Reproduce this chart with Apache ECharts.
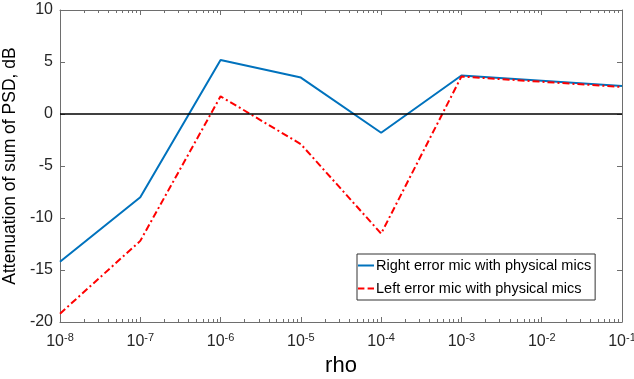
<!DOCTYPE html>
<html>
<head>
<meta charset="utf-8">
<script src="https://cdn.jsdelivr.net/npm/echarts@6/dist/echarts.min.js"></script>
<style>
  html, body { margin: 0; padding: 0; background: #fff; }
  #main { width: 634px; height: 379px; }
</style>
</head>
<body>
<div id="main"></div>
<script>
// rho values (log axis) and attenuation in dB
const rho = [1e-8, 1e-7, 1e-6, 1e-5, 1e-4, 1e-3, 1e-2, 1e-1];
const rightMic = [-14.2, -8.0, 5.2, 3.5, -1.8, 3.7, 3.2, 2.7];
const leftMic = [-19.2, -12.2, 1.7, -2.9, -11.5, 3.6, 3.1, 2.6];
const majorTicks = [1e-8, 1e-7, 1e-6, 1e-5, 1e-4, 1e-3, 1e-2, 1e-1];

// minor ticks at 2..9 x 10^n
const minorTicks = [];
for (let n = -8; n < -1; n++) {
  for (let k = 2; k <= 9; k++) minorTicks.push(k * Math.pow(10, n));
}

const boxColor = '#6e6e6e';
const font = 'Liberation Sans, Arial, sans-serif';

function xAxisDef (pos, minor, labels) {
  return {
    type: 'log',
    logBase: 10,
    min: 1e-8,
    max: 1e-1,
    position: pos,
    axisLine: { show: !minor, onZero: false, lineStyle: { color: boxColor, width: 1 } },
    axisTick: {
      show: true,
      inside: true,
      length: minor ? 3 : 5,
      customValues: minor ? minorTicks : majorTicks,
      lineStyle: { color: boxColor }
    },
    axisLabel: labels ? {
      show: true,
      customValues: majorTicks,
      margin: 10,
      formatter: function (v) {
        return '{b|10}{s|' + Math.round(Math.log10(v)) + '}';
      },
      rich: {
        b: { fontSize: 16, color: '#262626', fontFamily: font },
        s: { fontSize: 11, color: '#262626', fontFamily: font, padding: [0, 0, 9, 0] }
      }
    } : { show: false },
    splitLine: { show: false },
    name: labels ? 'rho' : '',
    nameLocation: 'middle',
    nameGap: 30,
    nameTextStyle: { fontSize: 22, color: '#000', fontFamily: font }
  };
}

function yAxisDef (pos, labels) {
  return {
    type: 'value',
    min: -20,
    max: 10,
    interval: 5,
    position: pos,
    axisLine: { show: true, onZero: false, lineStyle: { color: boxColor, width: 1 } },
    axisTick: { show: true, inside: true, length: 5, lineStyle: { color: boxColor } },
    axisLabel: { show: labels, fontSize: 16, color: '#262626', fontFamily: font, margin: 7 },
    splitLine: { show: false },
    name: labels ? 'Attenuation of sum of PSD, dB' : '',
    nameLocation: 'middle',
    nameGap: 25,
    nameTextStyle: { fontSize: 17.5, color: '#000', fontFamily: font }
  };
}

const option = {
  backgroundColor: '#fff',
  animation: false,
  grid: { left: 60, right: 12, top: 10, bottom: 57, outerBoundsMode: 'none', containLabel: false },
  legend: {
    left: 357,
    top: 254,
    orient: 'vertical',
    backgroundColor: '#fff',
    borderColor: '#333',
    borderWidth: 1,
    borderRadius: 0,
    padding: [4, 4, 4, 1],
    itemGap: 8,
    itemWidth: 16,
    itemHeight: 14,
    textStyle: { fontSize: 14.5, color: '#000', fontFamily: font, padding: [0, 0, 0, -3] },
    data: [
      { name: 'Right error mic with physical mics', icon: 'path://M0,0h16v2h-16z' },
      { name: 'Left error mic with physical mics', icon: 'path://M0,0h6v2h-6z M9,0h6v2h-6z' }
    ]
  },
  xAxis: [
    xAxisDef('bottom', false, true),
    xAxisDef('bottom', true, false),
    xAxisDef('top', false, false),
    xAxisDef('top', true, false)
  ],
  yAxis: [
    yAxisDef('left', true),
    yAxisDef('right', false)
  ],
  series: [
    {
      name: 'Right error mic with physical mics',
      type: 'line',
      xAxisIndex: 0,
      yAxisIndex: 0,
      symbol: 'none',
      data: rho.map((x, i) => [x, rightMic[i]]),
      lineStyle: { color: '#0072BD', width: 2 },
      itemStyle: { color: '#0072BD' },
      markLine: {
        silent: true,
        symbol: 'none',
        label: { show: false },
        lineStyle: { color: '#000', width: 1.5, type: 'solid' },
        data: [{ yAxis: 0 }]
      },
      z: 3
    },
    {
      name: 'Left error mic with physical mics',
      type: 'line',
      xAxisIndex: 0,
      yAxisIndex: 0,
      symbol: 'none',
      data: rho.map((x, i) => [x, leftMic[i]]),
      lineStyle: { color: '#FF0000', width: 2, type: [7, 3, 2, 3] },
      itemStyle: { color: '#FF0000' },
      z: 4
    }
  ]
};

const myChart = echarts.init(document.getElementById('main'), null, { renderer: 'canvas' });
myChart.setOption(option);
</script>
</body>
</html>
